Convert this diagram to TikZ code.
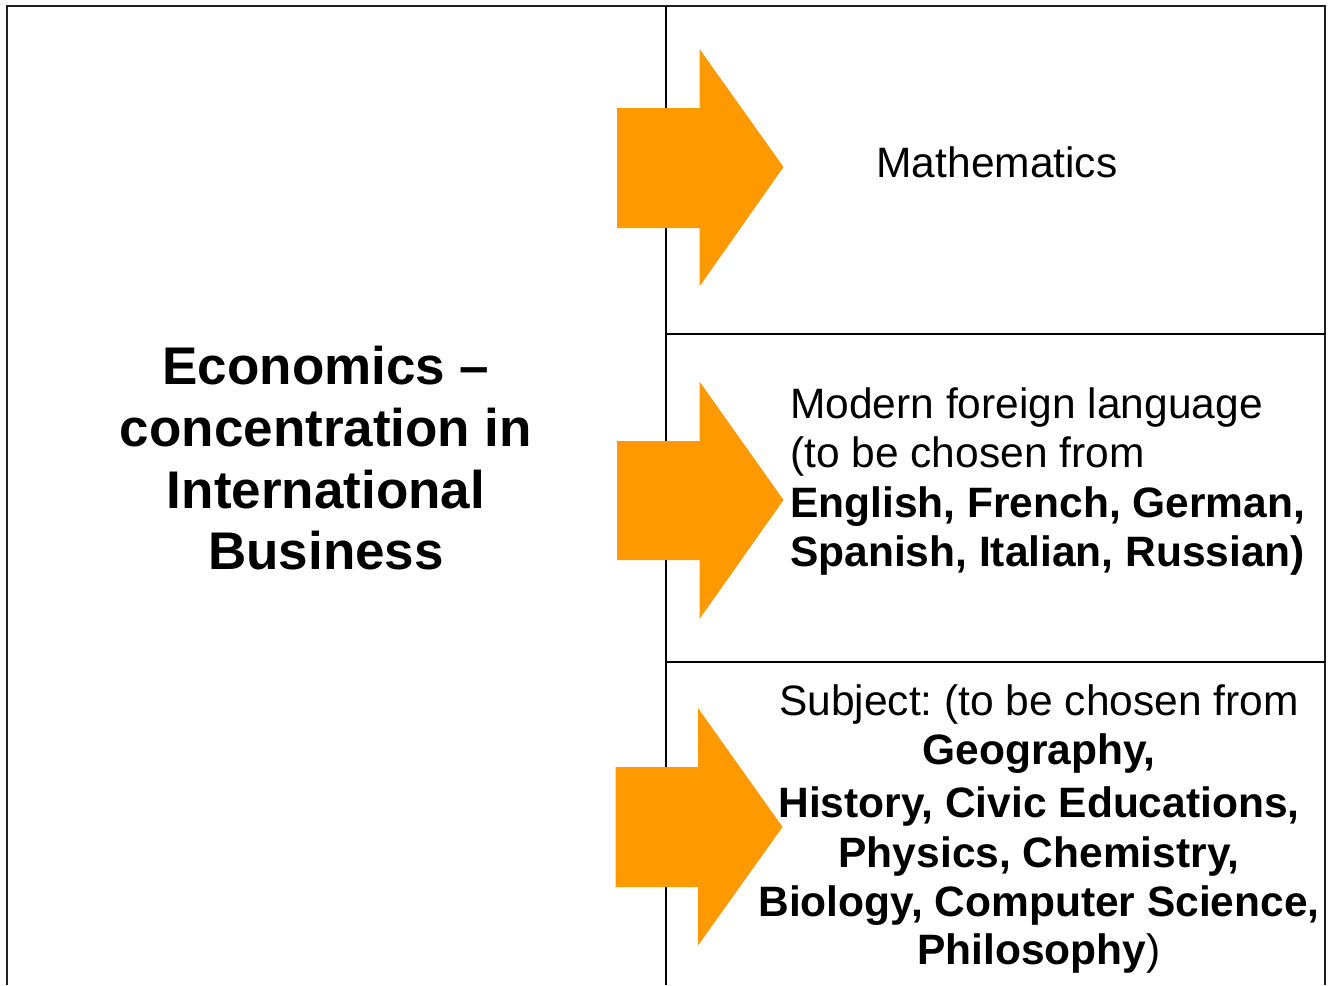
\documentclass[tikz,border=0pt]{standalone}
\usepackage{fontspec}
\setmainfont{Liberation Sans}
\definecolor{arroworange}{RGB}{255,153,0}
\frenchspacing
\begin{document}
\begin{tikzpicture}[x=1pt,y=-1pt,
  frame/.style={line width=2pt,draw=black!88},
  divider/.style={line width=1.6pt,draw=black},
  bigarrow/.style={fill=arroworange},
  lefttxt/.style={anchor=base,inner sep=0pt,font=\bfseries\fontsize{53}{62}\selectfont},
  boxtxt/.style={anchor=base,inner sep=0pt,font=\fontsize{42.5}{49}\selectfont},
  boxbold/.style={boxtxt,font=\bfseries\fontsize{42.5}{49}\selectfont}]
\useasboundingbox (0,0) rectangle (1329,985);
\fill[white] (0,0) rectangle (1329,985);
% frame
\coordinate (bl) at (7,985);
\coordinate (tl) at (7,6);
\coordinate (tr) at (1325,6);
\coordinate (br) at (1325,985);
\draw[frame] (bl) -- (tl) -- (tr) -- (br);
\coordinate (vt) at (666,6);
\coordinate (vb) at (666,985);
\draw[divider] (vt) -- (vb);
\coordinate (h1l) at (666,334);
\coordinate (h1r) at (1325,334);
\coordinate (h2l) at (666,662);
\coordinate (h2r) at (1325,662);
\draw[divider] (h1l) -- (h1r);
\draw[divider] (h2l) -- (h2r);
% arrows
\fill[bigarrow] (617,108) -- (699.5,108) -- (699.5,49) -- (783.5,167) -- (699.5,286.5) -- (699.5,228) -- (617,228) -- cycle;
\fill[bigarrow] (617,441) -- (699.5,441) -- (699.5,381.5) -- (783.5,500) -- (699.5,619) -- (699.5,560) -- (617,560) -- cycle;
\fill[bigarrow] (615.5,767) -- (698,767) -- (698,708) -- (782.5,827) -- (698,945.5) -- (698,887) -- (615.5,887) -- cycle;
% left text
\node[lefttxt] (l1) at (326,384) {Economics –};
\node[lefttxt] (l2) at (326,446) {concentration in};
\node[lefttxt] (l3) at (326,508) {International};
\node[lefttxt] (l4) at (326,569) {Business};
% box 1
\node[boxtxt] (m) at (997,177) {Mathematics};
% box 2
\node[boxtxt,anchor=base west] (f1) at (790,418) {Modern foreign language};
\node[boxtxt,anchor=base west] (f2) at (790,467.5) {(to be chosen from};
\node[boxbold,anchor=base west] (f3) at (790,517) {English, French, German,};
\node[boxbold,anchor=base west] (f4) at (790,566) {Spanish, Italian, Russian)};
% box 3
\node[boxtxt] (s1) at (1039,715.5) {Subject: (to be chosen from};
\node[boxbold] (s2) at (1039,764) {Geography,};
\node[boxbold] (s3) at (1039,817.5) {History, Civic Educations,};
\node[boxbold] (s4) at (1039,867.5) {Physics, Chemistry,};
\node[boxbold] (s5) at (1039,916) {Biology, Computer Science,};
\node[boxtxt] (s6) at (1039,964.5) {\textbf{Philosophy})};
\end{tikzpicture}
\end{document}
